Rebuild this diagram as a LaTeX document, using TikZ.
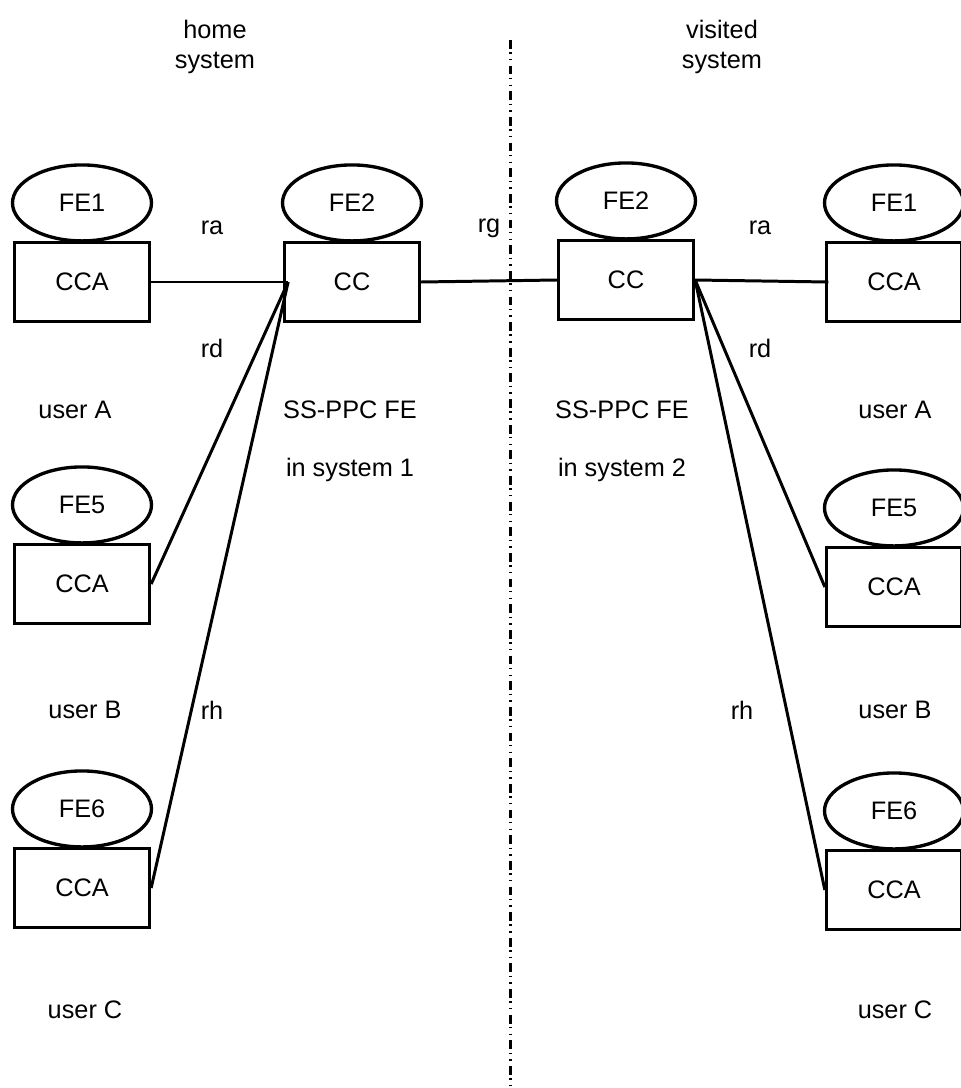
\documentclass[tikz,border=0pt]{standalone}
\usepackage{fontspec}
\setmainfont{Liberation Sans}
\usetikzlibrary{positioning, shapes.geometric}

\begin{document}
\begin{tikzpicture}[
    x=0.02cm, y=-0.02cm,
    every node/.style={font=\fontsize{14.4pt}{17pt}\selectfont, align=center},
    box/.style={draw, line width=1.9pt, minimum width=2.7cm, minimum height=1.58cm, inner sep=0pt},
    fe/.style={draw, ellipse, line width=1.9pt, minimum width=2.78cm, minimum height=1.52cm, inner sep=0pt},
    link/.style={line width=1.7pt},
    border/.style={line width=1.7pt, dash pattern=on 5pt off 2pt on 0.8pt off 3pt on 0.8pt off 3pt}
]
    \useasboundingbox (0,0) rectangle (960,1088);

    % Home system
    \node[box] (ccaA) at (82,282) {CCA};
    \node[fe, above=-1pt of ccaA] (feA) {FE1};
    \node[box] (ccL) at (352,282) {CC};
    \node[fe, above=-1pt of ccL] (feL) {FE2};
    \node[box] (ccaB) at (82,584) {CCA};
    \node[fe, above=-1pt of ccaB] (feB) {FE5};
    \node[box] (ccaC) at (82,888) {CCA};
    \node[fe, above=-1pt of ccaC] (feC) {FE6};

    % Visited system
    \node[box] (ccR) at (626,280) {CC};
    \node[fe, above=-1pt of ccR] (feR) {FE2};
    \node[box] (ccaRA) at (894,282) {CCA};
    \node[fe, above=-1pt of ccaRA] (feRA) {FE1};
    \node[box] (ccaRB) at (894,587) {CCA};
    \node[fe, above=-1pt of ccaRB] (feRB) {FE5};
    \node[box] (ccaRC) at (894,890) {CCA};
    \node[fe, above=-1pt of ccaRC] (feRC) {FE6};

    % Labels
    \node (home) at (215,47) {home\\system};
    \node (visited) at (722,47) {visited\\system};
    \node (raL) at (212,228) {ra};
    \node (rg) at (489,228) {rg};
    \node (raR) at (760,228) {ra};
    \node (rdL) at (212,348) {rd};
    \node (rdR) at (760,348) {rd};
    \node (rhL) at (212,710) {rh};
    \node (rhR) at (742,710) {rh};
    \node (userA) at (75,410) {user A};
    \node (userAR) at (895,410) {user A};
    \node (userB) at (85,710) {user B};
    \node (userBR) at (895,710) {user B};
    \node (userC) at (85,1010) {user C};
    \node (userCR) at (895,1010) {user C};
    \node (ssL) at (350,410) {SS-PPC FE};
    \node (sysL) at (350,470) {in system 1};
    \node (ssR) at (622,410) {SS-PPC FE};
    \node (sysR) at (622,470) {in system 2};

    % Border between systems
    \coordinate (divTop) at (510,40);
    \coordinate (divBot) at (510,1088);
    \draw[border] (divTop) -- (divBot);

    % Links
    \draw[link] (ccaA.east) -- ([xshift=3pt]ccL.west);
    \draw[link] ([xshift=3pt]ccL.west) -- (ccaB.east);
    \draw[link] ([xshift=3pt]ccL.west) -- (ccaC.east);
    \draw[link] (ccL.east) -- (ccR.west);
    \draw[link] (ccR.east) -- ([xshift=2pt]ccaRA.west);
    \draw[link] (ccR.east) -- (ccaRB.west);
    \draw[link] (ccR.east) -- (ccaRC.west);
\end{tikzpicture}
\end{document}
